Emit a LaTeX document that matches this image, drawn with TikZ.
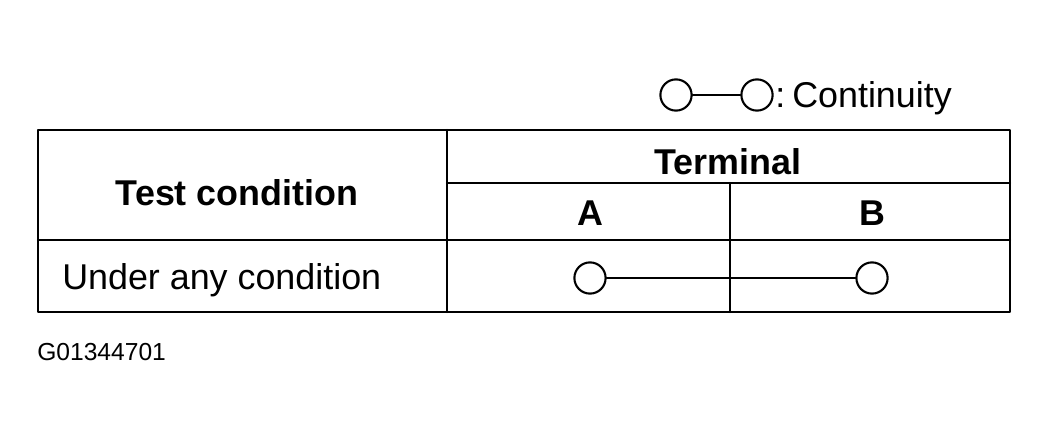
\documentclass[tikz,border=0pt]{standalone}
\usepackage{fontspec}
\setmainfont{Liberation Sans}
\begin{document}
\begin{tikzpicture}[line cap=round,line join=round,x=0.025cm,y=-0.025cm,
  grid/.style={line width=1.5pt},
  term/.style={circle,draw,line width=1.5pt,minimum size=0.78cm,inner sep=0pt},
  head/.style={font=\fontsize{25.5}{28}\selectfont\bfseries},
  body/.style={font=\fontsize{25.5}{28}\selectfont}]
	\useasboundingbox (0,0) rectangle (1049,433);
	% table frame
	\draw [grid] (38,130) rectangle (1010,312);
	\draw [grid] (447,130) -- (447,312);
	\draw [grid] (447,183) -- (1010,183);
	\draw [grid] (38,240) -- (1010,240);
	\draw [grid] (730,183) -- (730,312);
	% headings
	\node [head] (cond) at (237,193) {Test condition};
	\node [head] (terminal) at (728,162) {Terminal};
	\node [head] (ta) at (590,213) {A};
	\node [head] (tb) at (872,213) {B};
	\node [body,anchor=west,inner sep=0pt] (any) at (62,280) {Under any condition};
	% continuity
	\node [term] (ca) at (590,278) {};
	\node [term] (cb) at (872,278) {};
	\draw [grid] (ca) -- (cb);
	% legend
	\node [term] (la) at (676,95) {};
	\node [term] (lb) at (757,95) {};
	\draw [grid] (la) -- (lb);
	\node [body,anchor=west,inner sep=0pt] (cont) at (775,98) {:\hspace{5pt}Continuity};
	\node [font=\fontsize{17.5}{20}\selectfont,anchor=west,inner sep=0pt] (fig) at (37,352) {G01344701};
\end{tikzpicture}
\end{document}
